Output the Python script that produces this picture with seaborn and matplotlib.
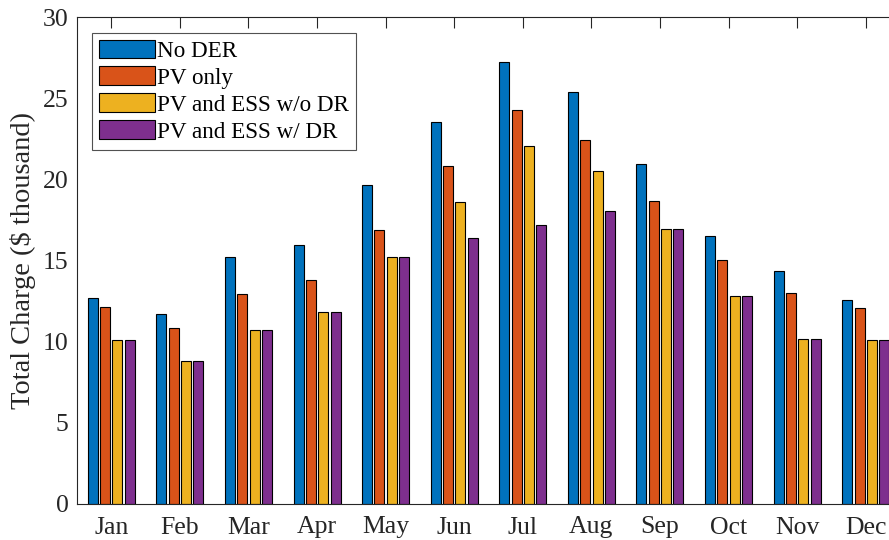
import matplotlib
matplotlib.use("Agg")
import matplotlib.pyplot as plt
import seaborn as sns
import pandas as pd

months = ["Jan", "Feb", "Mar", "Apr", "May", "Jun",
          "Jul", "Aug", "Sep", "Oct", "Nov", "Dec"]
scenarios = ["No DER", "PV only", "PV and ESS w/o DR", "PV and ESS w/ DR"]

no_der = [12.67, 11.72, 15.20, 15.96, 19.67, 23.56, 27.21, 25.37, 20.97, 16.49, 14.36, 12.55]
pv_only = [12.12, 10.82, 12.92, 13.80, 16.88, 20.84, 24.28, 22.43, 18.65, 15.05, 13.02, 12.08]
pv_ess_no_dr = [10.10, 8.83, 10.70, 11.83, 15.20, 18.59, 22.06, 20.52, 16.94, 12.83, 10.17, 10.12]
pv_ess_dr = [10.10, 8.83, 10.70, 11.83, 15.20, 16.41, 17.17, 18.03, 16.94, 12.83, 10.17, 10.12]

colors = ["#0072BD", "#D95319", "#EDB120", "#7E2F8E"]

series = [no_der, pv_only, pv_ess_no_dr, pv_ess_dr]
rows = []
for name, vals in zip(scenarios, series):
    for m, v in zip(months, vals):
        rows.append({"Month": m, "Scenario": name, "Charge": v})
df = pd.DataFrame(rows)

sns.set_theme(style="white")
plt.rcParams["font.family"] = ["Liberation Serif", "DejaVu Serif"]

fig = plt.figure(figsize=(8.89, 5.40), dpi=100)
ax = fig.add_axes([77 / 889, 36 / 540, (900 - 77) / 889, 487 / 540])

sns.barplot(data=df, x="Month", y="Charge", hue="Scenario",
            order=months, hue_order=scenarios, palette=colors,
            width=0.72, gap=0.19, edgecolor="black", linewidth=0.8,
            saturation=1, ax=ax, errorbar=None)

ax.set_xlim(-0.5, 11.5)
ax.set_ylim(0, 30)
ax.set_yticks([0, 5, 10, 15, 20, 25, 30])
ax.set_xlabel("")
ax.set_ylabel("Total Charge (\\$ thousand)", fontsize=20.5, color="#262626", labelpad=5)

ax.tick_params(axis="both", direction="in", length=8, width=0.8,
               color="#262626", labelcolor="#262626", labelsize=18.5,
               top=True, right=True)
ax.tick_params(axis="x", pad=9)
ax.tick_params(axis="y", pad=6)
for side in ["left", "bottom", "top", "right"]:
    ax.spines[side].set_visible(True)
    ax.spines[side].set_color("#262626")
    ax.spines[side].set_linewidth(0.8)

leg = ax.legend(loc="upper left", bbox_to_anchor=(0.0185, 0.968),
                fontsize=16.7, frameon=True, fancybox=False,
                handlelength=2.4, handleheight=0.85, handletextpad=0.1,
                labelspacing=0.2, borderpad=0.3, borderaxespad=0.0)
leg.get_frame().set_edgecolor("#262626")
leg.get_frame().set_linewidth(0.8)
for t in leg.get_texts():
    t.set_color("black")

fig.savefig("out.png", dpi=100)
